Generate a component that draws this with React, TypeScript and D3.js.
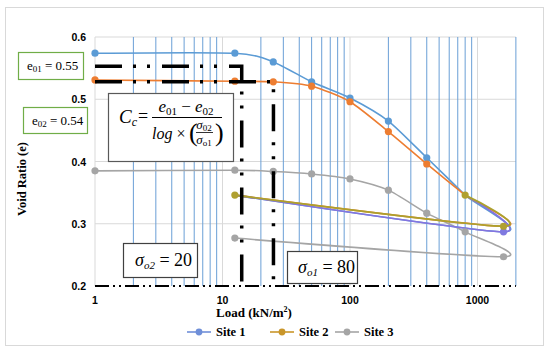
import React from 'react';
import * as d3 from "d3";

const width = 550;
const height = 353;

// loads (kN/m2), the last point is the unloading step back to 12.5
const loads = [1, 12.5, 25, 50, 100, 200, 400, 800, 1600, 12.5];
const site1 = [0.574, 0.574, 0.56, 0.528, 0.502, 0.465, 0.406, 0.346, 0.287, 0.346];
const site2 = [0.531, 0.529, 0.528, 0.521, 0.496, 0.448, 0.396, 0.346, 0.296, 0.346];
const site3 = [0.385, 0.386, 0.384, 0.38, 0.372, 0.354, 0.317, 0.287, 0.247, 0.277];

const yTicks = [0.2, 0.3, 0.4, 0.5, 0.6];
const xTicks = [1, 10, 100, 1000];
const minorLoads = [2, 3, 4, 5, 6, 7, 8, 9, 20, 30, 40, 50, 60, 70, 80, 90,
    200, 300, 400, 500, 600, 700, 800, 900, 2000];

// construction lines for e01 / e02
const eLine1 = [[1, 0.553], [14.15, 0.553], [14.15, 0.2]];
const eLine2 = [[1, 0.528], [25.1, 0.528], [25.1, 0.2]];

const legend = [
    { name: "Site 1", color: "#6f8fd8" },
    { name: "Site 2", color: "#c9962a" },
    { name: "Site 3", color: "#a5a5a5" },
];

const x = d3.scaleLog().domain([1, 2000]).range([95, 95 + Math.log10(2000) * 127.5]);
const y = d3.scaleLinear().domain([0.2, 0.6]).range([286, 37]);

const line = d3.line<number[]>()
    .x(d => x(d[0]))
    .y(d => y(d[1]))
    .curve(d3.curveCardinal.tension(0.3));

const straight = d3.line<number[]>().x(d => x(d[0])).y(d => y(d[1]));

const pts = (vals: number[]) => loads.map((l, i) => [l, vals[i]]);

const serif = "'Liberation Serif', 'Times New Roman', serif";
const sans = "'Liberation Sans', Arial, sans-serif";
const math = "'Liberation Serif', 'DejaVu Serif', serif";

export default function App() {
    const p1 = pts(site1);
    const p2 = pts(site2);
    const p3 = pts(site3);
    const dashed = "27 11 3 11 3 12";

    return (
        <svg width={width} height={height} style={{ position: "absolute", left: 0, top: 0 }}>
            <rect x={0} y={0} width={width} height={height} fill="#fff" />
            <rect x={5.5} y={7.5} width={538} height={338} fill="#fff" stroke="#d9d9d9" />

            {/* grid */}
            {yTicks.slice(1).map(t => (
                <line key={t} x1={x(1)} x2={x(2000)} y1={y(t)} y2={y(t)} stroke="#d9d9d9" />
            ))}
            {xTicks.map(t => (
                <line key={t} x1={x(t)} x2={x(t)} y1={y(0.6)} y2={y(0.2)} stroke="#d9d9d9" />
            ))}
            {minorLoads.map(t => (
                <line key={t} x1={x(t)} x2={x(t)} y1={y(0.6)} y2={y(0.2)} stroke="#6a9fd6" strokeWidth={1} />
            ))}

            {/* series */}
            <path d={line(p3) || ""} fill="none" stroke="#a5a5a5" strokeWidth={1.6} />
            <path d={line(p1) || ""} fill="none" stroke="#5b9bd5" strokeWidth={1.6} />
            <path d={line(p2) || ""} fill="none" stroke="#ed7d31" strokeWidth={1.6} />
            <path d={line(p1.slice(7)) || ""} fill="none" stroke="#8573e0" strokeWidth={1.6} />
            <path d={line(p2.slice(7)) || ""} fill="none" stroke="#aba12e" strokeWidth={1.8} />
            {p3.map((d, i) => <circle key={"c3" + i} cx={x(d[0])} cy={y(d[1])} r={3.6} fill="#a5a5a5" />)}
            {p1.slice(0, 7).map((d, i) => <circle key={"c1" + i} cx={x(d[0])} cy={y(d[1])} r={3.6} fill="#5b9bd5" />)}
            <circle cx={x(p1[8][0])} cy={y(p1[8][1])} r={3.6} fill="#7f79e0" />
            {p2.slice(0, 7).map((d, i) => <circle key={"c2" + i} cx={x(d[0])} cy={y(d[1])} r={3.6} fill="#ed7d31" />)}
            {p2.slice(7).map((d, i) => <circle key={"g2" + i} cx={x(d[0])} cy={y(d[1])} r={3.6} fill="#b0a030" />)}

            {/* construction lines */}
            <path d={straight(eLine1) || ""} fill="none" stroke="#000" strokeWidth={3.5} strokeDasharray={dashed} />
            <path d={straight(eLine2) || ""} fill="none" stroke="#000" strokeWidth={3.5} strokeDasharray={dashed} />
            <line x1={x(1)} x2={x(2000)} y1={y(0.2)} y2={y(0.2)} stroke="#000" strokeWidth={2}
                strokeDasharray="14 4 2 4 2 4" />

            {/* axes labels */}
            {yTicks.map(t => (
                <text key={t} x={86} y={y(t) + 4} textAnchor="end" fontFamily={sans} fontWeight="bold"
                    fontSize={10.5} fill="#000">{t.toFixed(1)}</text>
            ))}
            {xTicks.map(t => (
                <text key={t} x={x(t)} y={304} textAnchor="middle" fontFamily={sans} fontWeight="bold"
                    fontSize={10.5} fill="#000">{t}</text>
            ))}
            <text x={254} y={317} textAnchor="middle" fontFamily={serif} fontWeight="bold" fontSize={13}>
                Load (kN/m<tspan fontSize={8} dy={-5}>2</tspan><tspan dy={5}>)</tspan>
            </text>
            <text transform="translate(26,179) rotate(-90)" textAnchor="middle" fontFamily={serif}
                fontWeight="bold" fontSize={12.5}>Void Ratio (e)</text>

            {/* legend */}
            {legend.map((l, i) => {
                const lx = [187, 270, 335][i];
                return (
                    <g key={l.name}>
                        <line x1={lx} x2={lx + 24} y1={332} y2={332} stroke={l.color} strokeWidth={1.6} />
                        <circle cx={lx + 12} cy={332} r={3.4} fill={l.color} />
                        <text x={lx + 29} y={336} fontFamily={serif} fontWeight="bold" fontSize={12.5}>{l.name}</text>
                    </g>
                );
            })}

            {/* e boxes */}
            <rect x={18.5} y={52.5} width={65} height={27} fill="#fff" stroke="#70ad47" strokeWidth={1.2} />
            <text x={27} y={70} fontFamily={serif} fontSize={13}>
                e<tspan fontSize={9} dy={2}>01</tspan><tspan dy={-2}> = 0.55</tspan>
            </text>
            <rect x={23.5} y={107.5} width={64} height={26} fill="#fff" stroke="#70ad47" strokeWidth={1.2} />
            <text x={32} y={125} fontFamily={serif} fontSize={13}>
                e<tspan fontSize={9} dy={2}>02</tspan><tspan dy={-2}> = 0.54</tspan>
            </text>

            {/* formula */}
            <rect x={108.5} y={93.5} width={125} height={68} fill="#fff" stroke="#595959" strokeWidth={1.2} />
            <text x={119} y={123} fontFamily={math} fontStyle="italic" fontSize={19}>
                C<tspan fontSize={12} dy={3}>c</tspan>
            </text>
            <text x={138} y={122} fontFamily={math} fontSize={18}>=</text>
            <text x={186} y={112} textAnchor="middle" fontFamily={math} fontSize={17}>
                <tspan fontStyle="italic">e</tspan><tspan fontSize={11} dy={3}>01</tspan>
                <tspan dy={-3}> − </tspan><tspan fontStyle="italic">e</tspan><tspan fontSize={11} dy={3}>02</tspan>
            </text>
            <line x1={152} x2={222} y1={117.5} y2={117.5} stroke="#000" strokeWidth={1} />
            <text x={152} y={139} fontFamily={math} fontSize={16}>
                <tspan fontStyle="italic">log</tspan> ×
            </text>
            <text x={189} y={141} fontFamily={math} fontSize={26}>(</text>
            <text x={215} y={141} fontFamily={math} fontSize={26}>)</text>
            <text x={204} y={129} textAnchor="middle" fontFamily={math} fontSize={13}>
                <tspan fontStyle="italic">σ</tspan><tspan fontSize={9} dy={2}>02</tspan>
            </text>
            <line x1={196} x2={213} y1={132.5} y2={132.5} stroke="#000" strokeWidth={0.8} />
            <text x={204} y={144} textAnchor="middle" fontFamily={math} fontSize={13}>
                <tspan fontStyle="italic">σ</tspan><tspan fontSize={9} dy={2}>o1</tspan>
            </text>

            {/* sigma boxes */}
            <rect x={123.5} y={243.5} width={74} height={34} fill="#fff" stroke="#404040" strokeWidth={1.2} />
            <text x={135} y={266} fontFamily={math} fontSize={18}>
                <tspan fontStyle="italic">σ</tspan><tspan fontSize={11} fontStyle="italic" dy={3}>o2</tspan>
                <tspan dy={-3}> = 20</tspan>
            </text>
            <rect x={287.5} y={251.5} width={70} height={32} fill="#fff" stroke="#404040" strokeWidth={1.2} />
            <text x={298} y={273} fontFamily={math} fontSize={18}>
                <tspan fontStyle="italic">σ</tspan><tspan fontSize={11} fontStyle="italic" dy={3}>o1</tspan>
                <tspan dy={-3}> = 80</tspan>
            </text>
        </svg>
    );
}
